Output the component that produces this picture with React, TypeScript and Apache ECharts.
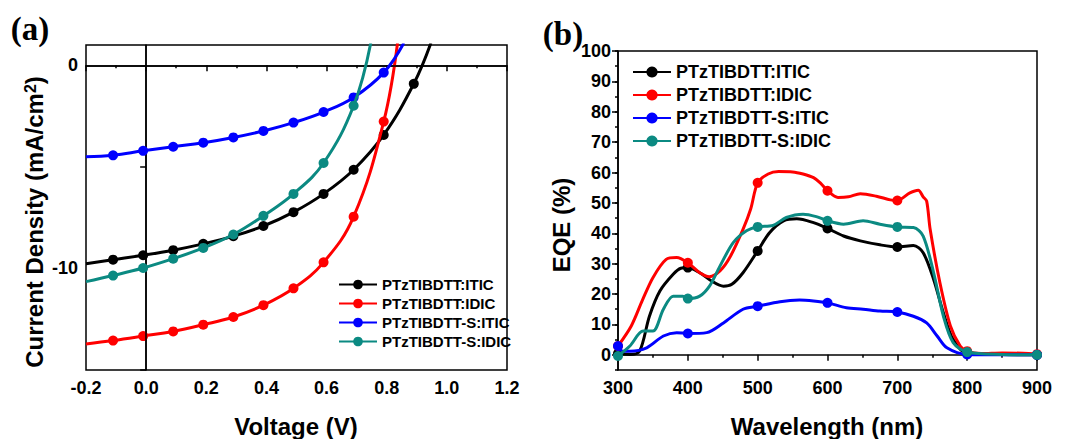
import React, { useEffect, useRef } from "react";
import * as echarts from "echarts";

const SERIES_NAMES = ["PTzTIBDTT:ITIC", "PTzTIBDTT:IDIC", "PTzTIBDTT-S:ITIC", "PTzTIBDTT-S:IDIC"];
const COLORS = ["#000000", "#ff0000", "#0000ff", "#0b8a82"];

// (a) J-V curves: voltage (V) and current density (mA/cm2)
const JV_ITIC_V = [-0.2, -0.11, -0.01, 0.09, 0.19, 0.29, 0.39, 0.49, 0.59, 0.69, 0.79, 0.89, 0.947];
const JV_ITIC_J = [-9.77, -9.57, -9.35, -9.1, -8.79, -8.41, -7.91, -7.23, -6.33, -5.14, -3.43, -0.91, 1.1];
const JV_IDIC_V = [-0.2, -0.11, -0.01, 0.09, 0.19, 0.29, 0.39, 0.49, 0.59, 0.69, 0.79, 0.836];
const JV_IDIC_J = [-13.72, -13.55, -13.33, -13.1, -12.77, -12.39, -11.81, -10.98, -9.7, -7.45, -2.77, 1.1];
const JV_S_ITIC_V = [-0.2, -0.11, -0.01, 0.09, 0.19, 0.29, 0.39, 0.49, 0.59, 0.69, 0.79, 0.857];
const JV_S_ITIC_J = [-4.5, -4.43, -4.21, -4.01, -3.81, -3.55, -3.23, -2.82, -2.3, -1.58, -0.36, 1.1];
const JV_S_IDIC_V = [-0.2, -0.11, -0.01, 0.09, 0.19, 0.29, 0.39, 0.49, 0.59, 0.69, 0.747];
const JV_S_IDIC_J = [-10.65, -10.35, -9.98, -9.52, -8.99, -8.33, -7.41, -6.33, -4.81, -1.99, 1.1];

// (b) EQE spectra: wavelength (nm) and EQE (%)
const EQE_ITIC_W = [300, 317, 331, 345, 360, 379, 390, 400, 417, 434, 451, 463, 479, 500, 517, 537, 556, 580, 600, 623, 647, 675, 700, 723, 737, 752, 766, 780, 800, 850, 900];
const EQE_ITIC_E = [0.4, 0.1, 1.2, 12.7, 21, 26.5, 28.5, 28.7, 27, 24.3, 22.6, 23.2, 27, 34.2, 40.2, 44.1, 44.8, 43.5, 41.6, 39.1, 37.5, 36.2, 35.5, 36, 33.6, 24.8, 13.8, 5, 0.4, 0.1, 0];
const EQE_IDIC_W = [300, 319, 335, 350, 369, 384, 400, 417, 431, 446, 460, 479, 490, 500, 515, 530, 550, 565, 580, 590, 600, 615, 630, 647, 670, 690, 700, 718, 730, 737, 742, 747, 761, 776, 790, 800, 820, 850, 880, 900];
const EQE_IDIC_E = [2.9, 9.5, 18, 25.4, 31.4, 32, 30.3, 27, 25.7, 27.6, 32, 41.3, 48, 56.6, 59.5, 60.3, 60.2, 59.5, 58.3, 56.5, 54, 51.8, 52, 53, 52.2, 51, 50.8, 53.3, 54.2, 52, 50.6, 41.3, 23.7, 9.5, 2.9, 1.2, 0.4, 0.6, 0.5, 0.2];
const EQE_S_ITIC_W = [300, 307, 317, 341, 365, 384, 400, 427, 451, 479, 500, 532, 560, 580, 600, 627, 651, 675, 700, 723, 742, 757, 771, 800, 850, 900];
const EQE_S_ITIC_E = [2.9, 1.2, 1.2, 2.3, 6.2, 7.3, 7, 7.3, 10.5, 15, 16, 17.5, 18, 17.7, 17.1, 15.5, 15, 14.4, 14.1, 12.7, 10.5, 6.2, 2.3, 0.1, 0, 0];
const EQE_S_IDIC_W = [300, 317, 336, 350, 365, 379, 393, 400, 417, 431, 446, 465, 484, 500, 522, 541, 565, 584, 600, 623, 651, 675, 700, 723, 737, 752, 766, 780, 800, 850, 900];
const EQE_S_IDIC_E = [-0.4, 2.9, 7.8, 7.8, 15, 19.3, 19.3, 18.5, 19.3, 22.6, 29.2, 36.9, 40.8, 42.1, 42.6, 45.2, 46.3, 45.5, 44.1, 43, 44.1, 43, 42.1, 41.9, 39.1, 27, 12.7, 4, 0.9, 0.1, 0];

const JV_X_TICKS_MIN = -0.2;
const JV_X_TICKS_MAX = 1.2;
const JV_Y_TICKS = [-15, -10, -5, 0];
const JV_Y_LABELS = [-10, 0];
const EQE_Y_LABELS = [0, 10, 20, 30, 40, 50, 60, 70, 80, 90, 100];

const FONT = '"Liberation Sans", Arial, sans-serif';
const SERIF = '"Liberation Serif", "Times New Roman", serif';

const zip = (a: number[], b: number[]) => a.map((v, i) => [v, b[i]]);

export default function App() {
  const ref = useRef<HTMLDivElement>(null);
  useEffect(() => {
    if (!ref.current) return;
    const chart = echarts.init(ref.current, null, { renderer: "svg" });

    const jv = [
      zip(JV_ITIC_V, JV_ITIC_J),
      zip(JV_IDIC_V, JV_IDIC_J),
      zip(JV_S_ITIC_V, JV_S_ITIC_J),
      zip(JV_S_IDIC_V, JV_S_IDIC_J),
    ];
    const eqe = [
      zip(EQE_ITIC_W, EQE_ITIC_E),
      zip(EQE_IDIC_W, EQE_IDIC_E),
      zip(EQE_S_ITIC_W, EQE_S_ITIC_E),
      zip(EQE_S_IDIC_W, EQE_S_IDIC_E),
    ];

    const black = "#000";
    const axisLine = { show: true, lineStyle: { color: black, width: 1.5 } };
    const tickLabel = { color: black, fontFamily: FONT, fontWeight: "bold" as const, fontSize: 18 };

    const jvSeries = jv.map((d, i) => ({
      type: "line",
      name: SERIES_NAMES[i],
      xAxisIndex: 0,
      yAxisIndex: 0,
      data: d,
      smooth: 0.4,
      symbol: "circle",
      showAllSymbol: true,
      symbolSize: (_v: any, p: any) => (p.dataIndex === 0 || p.dataIndex === d.length - 1 ? 0 : 10),
      itemStyle: { color: COLORS[i] },
      lineStyle: { color: COLORS[i], width: 3 },
      z: 3 + i,
      markLine:
        i === 0
          ? {
              silent: true,
              symbol: ["none", "none"],
              label: { show: false },
              lineStyle: { color: black, width: 1.5, type: "solid" },
              data: [{ xAxis: 0 }, { yAxis: 0 }],
            }
          : undefined,
    }));

    const eqeSeries = eqe.map((d, i) => ({
      type: "line",
      name: SERIES_NAMES[i],
      xAxisIndex: 1,
      yAxisIndex: 1,
      data: d,
      smooth: 0.3,
      symbol: "circle",
      showAllSymbol: true,
      symbolSize: (v: any) => (v[0] % 100 === 0 ? 10 : 0),
      itemStyle: { color: COLORS[i] },
      lineStyle: { color: COLORS[i], width: 3 },
      z: 3 + i,
    }));

    const legendText = (size: number) => ({
      color: black,
      fontFamily: FONT,
      fontWeight: "bold" as const,
      fontSize: size,
    });

    chart.setOption({
      animation: false,
      backgroundColor: "#fff",
      grid: [
        { left: 86, top: 45, width: 421, height: 325, show: true, borderColor: black, borderWidth: 1.5, backgroundColor: "transparent" },
        { left: 618, top: 51, width: 419, height: 319, show: true, borderColor: black, borderWidth: 1.5, backgroundColor: "transparent" },
      ],
      xAxis: [
        {
          type: "value",
          gridIndex: 0,
          min: JV_X_TICKS_MIN,
          max: JV_X_TICKS_MAX,
          interval: 0.2,
          axisLine,
          axisTick: { show: true, inside: false, length: 6, lineStyle: { color: black, width: 1.5 } },
          minorTick: { show: true, splitNumber: 2, length: 3, lineStyle: { color: black, width: 1.5 } },
          splitLine: { show: false },
          axisLabel: { ...tickLabel, margin: 9, formatter: (v: number) => v.toFixed(1) },
        },
        {
          type: "value",
          gridIndex: 1,
          min: 300,
          max: 900,
          interval: 100,
          axisLine,
          axisTick: { show: true, inside: false, length: 6, lineStyle: { color: black, width: 1.5 } },
          minorTick: { show: true, splitNumber: 2, length: 3, lineStyle: { color: black, width: 1.5 } },
          splitLine: { show: false },
          axisLabel: { ...tickLabel, margin: 9 },
        },
      ],
      yAxis: [
        {
          type: "value",
          gridIndex: 0,
          min: -15,
          max: 1,
          interval: 5,
          axisLine,
          axisTick: { show: true, inside: false, length: 6, customValues: JV_Y_TICKS, lineStyle: { color: black, width: 1.5 } },
          splitLine: { show: false },
          axisLabel: {
            ...tickLabel,
            margin: 8,
            customValues: JV_Y_LABELS,
            formatter: (v: number) => (JV_Y_LABELS.includes(v) ? String(v) : ""),
          },
        },
        {
          type: "value",
          gridIndex: 1,
          min: -5,
          max: 100,
          interval: 5,
          axisLine,
          axisTick: { show: true, inside: false, length: 6, customValues: EQE_Y_LABELS, lineStyle: { color: black, width: 1.5 } },
          splitLine: { show: false },
          axisLabel: {
            ...tickLabel,
            margin: 7,
            customValues: EQE_Y_LABELS,
            formatter: (v: number) => (EQE_Y_LABELS.includes(v) ? String(v) : ""),
          },
        },
        {
          type: "value",
          gridIndex: 1,
          position: "left",
          min: -5,
          max: 100,
          interval: 5,
          axisLine: { show: false },
          axisTick: { show: true, inside: false, length: 3, lineStyle: { color: black, width: 1.5 } },
          splitLine: { show: false },
          axisLabel: { show: false },
        },
      ],
      legend: [
        {
          data: SERIES_NAMES,
          orient: "vertical",
          left: 338,
          top: 277,
          itemWidth: 38,
          itemHeight: 12,
          itemGap: 4,
          padding: 0,
          textStyle: legendText(15),
          selectedMode: false,
        },
        {
          data: SERIES_NAMES,
          orient: "vertical",
          left: 632,
          top: 63,
          itemWidth: 38,
          itemHeight: 14,
          itemGap: 5,
          padding: 0,
          textStyle: legendText(18),
          selectedMode: false,
        },
      ],
      graphic: [
        { type: "text", x: 30, y: 29, style: { text: "(a)", font: `bold 33px ${SERIF}`, fill: black, align: "center", verticalAlign: "middle" } },
        { type: "text", x: 563, y: 34, style: { text: "(b)", font: `bold 33px ${SERIF}`, fill: black, align: "center", verticalAlign: "middle" } },
        {
          type: "text",
          x: 34,
          y: 222,
          rotation: Math.PI / 2,
          style: {
            text: "Current Density (mA/cm{sup|2})",
            fontFamily: FONT,
            fontWeight: "bold",
            fontSize: 24,
            fill: black,
            align: "center",
            verticalAlign: "middle",
            rich: { sup: { fontFamily: FONT, fontWeight: "bold", fontSize: 16, fill: black, verticalAlign: "top" } },
          },
        },
        { type: "text", x: 296, y: 426, style: { text: "Voltage (V)", fontFamily: FONT, fontWeight: "bold", fontSize: 24, fill: black, align: "center", verticalAlign: "middle" } },
        {
          type: "text",
          x: 561,
          y: 225,
          rotation: Math.PI / 2,
          style: { text: "EQE (%)", fontFamily: FONT, fontWeight: "bold", fontSize: 24, fill: black, align: "center", verticalAlign: "middle" },
        },
        { type: "text", x: 827, y: 426, style: { text: "Wavelength (nm)", fontFamily: FONT, fontWeight: "bold", fontSize: 24, fill: black, align: "center", verticalAlign: "middle" } },
      ],
      series: [...jvSeries, ...eqeSeries],
    } as any);

    return () => chart.dispose();
  }, []);

  return (
    <div
      ref={ref}
      style={{ position: "absolute", left: 0, top: 0, width: 1065, height: 439, background: "#fff" }}
    />
  );
}
